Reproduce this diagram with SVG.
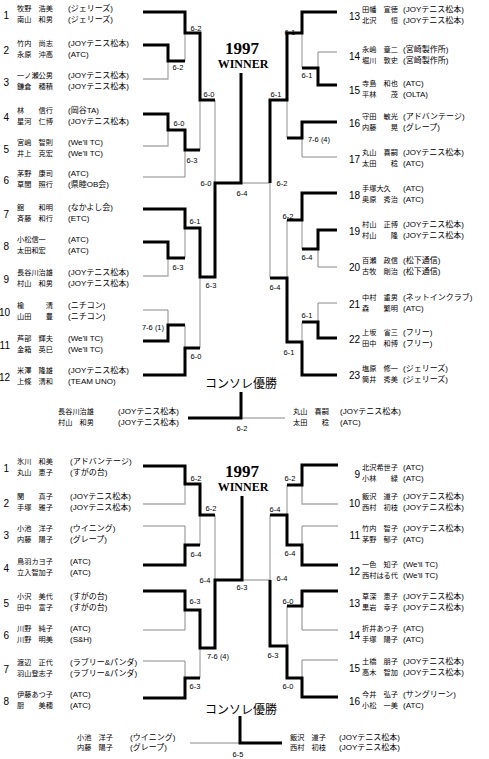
<svg xmlns="http://www.w3.org/2000/svg" width="489" height="759" viewBox="0 0 489 759">
<style>
.n{font-family:"Liberation Sans","Noto Sans CJK JP",sans-serif;font-size:8px;fill:#000}
.m{font-family:"Noto Sans CJK JP",sans-serif;font-size:7.2px;fill:#000}
.u{font-family:"Liberation Sans",sans-serif;font-size:10px;text-anchor:end;fill:#000}
.s{font-family:"Liberation Sans",sans-serif;font-size:7.5px;text-anchor:middle;fill:#000}
.w1{font-family:"Liberation Serif",serif;font-weight:bold;font-size:17px;text-anchor:middle}
.w2{font-family:"Liberation Serif",serif;font-weight:bold;font-size:12px;text-anchor:middle}
.c{font-family:"Noto Sans CJK JP",sans-serif;font-size:12px;text-anchor:middle}
.k{stroke:#000;stroke-width:3;fill:none}
.g{stroke:#aaa;stroke-width:1.3;fill:none}
.t{stroke:#888;stroke-width:1;fill:none}
</style>
<rect width="489" height="759" fill="#fff"/>

<g id="connectors">
<polyline class="g" points="143,79 168,79 168,61"/>
<polyline class="g" points="143,146 168,146 168,130"/>
<polyline class="t" points="143,177 185,177 185,150"/>
<polyline class="g" points="185,33 185,61"/>
<polyline class="g" points="200,100 200,150"/>
<polyline class="g" points="215,100 215,183"/>
<polyline class="g" points="185,228 185,258"/>
<polyline class="g" points="143,276 168,276 168,258"/>
<polyline class="t" points="143,310 168,310 168,325"/>
<polyline class="g" points="185,325 185,348"/>
<polyline class="g" points="200,277 200,348"/>
<polyline class="t" points="241,183 270,183"/>
<polyline class="k" points="143,12 185,12 185,33 200,33 200,100 215,100"/>
<polyline class="k" points="143,45 168,45 168,61 185,61"/>
<polyline class="k" points="143,114 168,114 168,130 185,130 185,150 200,150"/>
<polyline class="k" points="143,209 185,209 185,228 200,228 200,277 215,277 215,183 241,183 241,73"/>
<polyline class="k" points="143,242 168,242 168,258 185,258"/>
<polyline class="k" points="143,341 168,341 168,325 185,325"/>
<polyline class="k" points="143,375 185,375 185,348 200,348"/>
<polyline class="t" points="337,52 318,52 318,68"/>
<polyline class="g" points="302,33 302,68"/>
<polyline class="g" points="287,100 287,138"/>
<polyline class="t" points="337,157 302,157 302,138"/>
<polyline class="g" points="302,220 302,249"/>
<polyline class="t" points="337,267 318,267 318,249"/>
<polyline class="g" points="287,220 287,278"/>
<polyline class="t" points="337,303 318,303 318,322"/>
<polyline class="g" points="302,322 302,342"/>
<polyline class="g" points="270,183 270,278"/>
<polyline class="k" points="337,12 302,12 302,33 287,33 287,100 270,100 270,183"/>
<polyline class="k" points="337,85 318,85 318,68 302,68"/>
<polyline class="k" points="337,122 302,122 302,138 287,138"/>
<polyline class="k" points="337,193 302,193 302,220 287,220"/>
<polyline class="k" points="337,230 318,230 318,249 302,249"/>
<polyline class="k" points="337,338 318,338 318,322 302,322"/>
<polyline class="k" points="337,375 302,375 302,342 287,342 287,278 270,278"/>
<polyline class="t" points="241,418 285,418"/>
<polyline class="k" points="188,418 241,418 241,392"/>
<polyline class="g" points="143,504 185,504 185,484"/>
<polyline class="t" points="143,526 185,526 185,545"/>
<polyline class="g" points="200,515 200,545"/>
<polyline class="g" points="215,515 215,580"/>
<polyline class="t" points="143,630 185,630 185,610"/>
<polyline class="t" points="143,661 185,661 185,678"/>
<polyline class="g" points="200,648 200,678"/>
<polyline class="t" points="242,580 270,580"/>
<polyline class="k" points="143,466 185,466 185,484 200,484 200,515 215,515"/>
<polyline class="k" points="143,565 185,565 185,545 200,545"/>
<polyline class="k" points="143,591 185,591 185,610 200,610 200,648 215,648 215,580 242,580 242,496"/>
<polyline class="k" points="143,698 185,698 185,678 200,678"/>
<polyline class="g" points="338,504 302,504 302,485"/>
<polyline class="g" points="287,485 287,515"/>
<polyline class="t" points="338,526 302,526 302,545"/>
<polyline class="g" points="270,515 270,580"/>
<polyline class="t" points="338,630 302,630 302,606"/>
<polyline class="g" points="287,606 287,646"/>
<polyline class="t" points="338,660 302,660 302,678"/>
<polyline class="k" points="338,465 302,465 302,485 287,485"/>
<polyline class="k" points="338,565 302,565 302,545 287,545 287,515 270,515"/>
<polyline class="k" points="338,591 302,591 302,606 287,606"/>
<polyline class="k" points="338,697 302,697 302,678 287,678 287,646 270,646 270,580"/>
<polyline class="t" points="190,743 240,743"/>
<polyline class="k" points="240,716 240,743 282,743"/>
</g>

<g id="scores">
<text class="s" x="178" y="70">6-2</text>
<text class="s" x="196" y="31">6-2</text>
<text class="s" x="179" y="126">6-0</text>
<text class="s" x="192" y="163">6-3</text>
<text class="s" x="209" y="97">6-0</text>
<text class="s" x="206" y="186">6-0</text>
<text class="s" x="242" y="196">6-4</text>
<text class="s" x="195" y="224">6-1</text>
<text class="s" x="178" y="270">6-3</text>
<text class="s" x="211" y="288">6-3</text>
<text class="s" x="153" y="330">7-6 (1)</text>
<text class="s" x="196" y="359">6-0</text>
<text class="s" x="290" y="35">6-1</text>
<text class="s" x="307" y="78">6-1</text>
<text class="s" x="276" y="97">6-1</text>
<text class="s" x="319" y="142">7-6 (4)</text>
<text class="s" x="282" y="186">6-2</text>
<text class="s" x="288" y="219">6-2</text>
<text class="s" x="307" y="260">6-4</text>
<text class="s" x="275" y="290">6-4</text>
<text class="s" x="307" y="318">6-1</text>
<text class="s" x="289" y="355">6-1</text>
<text class="s" x="242" y="431">6-2</text>
<text class="s" x="196" y="481">6-2</text>
<text class="s" x="196" y="557">6-4</text>
<text class="s" x="211" y="511">6-2</text>
<text class="s" x="205" y="583">6-4</text>
<text class="s" x="195" y="604">6-3</text>
<text class="s" x="195" y="689">6-3</text>
<text class="s" x="218" y="659">7-6 (4)</text>
<text class="s" x="242" y="590">6-3</text>
<text class="s" x="290" y="481">6-2</text>
<text class="s" x="275" y="512">6-4</text>
<text class="s" x="290" y="556">6-4</text>
<text class="s" x="282" y="581">6-4</text>
<text class="s" x="288" y="604">6-0</text>
<text class="s" x="273" y="658">6-3</text>
<text class="s" x="288" y="689">6-0</text>
<text class="s" x="238" y="757">6-5</text>
</g>

<g id="title-top">
<text class="w1" x="242" y="54">1997</text>
<text class="w2" x="243" y="68">WINNER</text>
<text class="c" x="241" y="388">コンソレ優勝</text>
</g>
<g id="title-bottom">
<text class="w1" x="242" y="477">1997</text>
<text class="w2" x="243" y="491">WINNER</text>
<text class="c" x="241" y="714">コンソレ優勝</text>
</g>

<g id="t1"><text class="u" x="9" y="19">1</text><text class="m" x="17" y="11">牧野　浩美</text><text class="n" x="68" y="11">(ジェリーズ)</text><text class="m" x="17" y="22">南山　和男</text><text class="n" x="68" y="22">(ジェリーズ)</text></g>
<g id="t2"><text class="u" x="9" y="54">2</text><text class="m" x="17" y="46">竹内　尚志</text><text class="n" x="68" y="46">(JOYテニス松本)</text><text class="m" x="17" y="57">永原　沖高</text><text class="n" x="68" y="57">(ATC)</text></g>
<g id="t3"><text class="u" x="9" y="86">3</text><text class="m" x="17" y="78">一ノ瀬公男</text><text class="n" x="68" y="78">(JOYテニス松本)</text><text class="m" x="17" y="89">鎌倉　穂積</text><text class="n" x="68" y="89">(JOYテニス松本)</text></g>
<g id="t4"><text class="u" x="9" y="121">4</text><text class="m" x="17" y="113">林　　信行</text><text class="n" x="68" y="113">(岡谷TA)</text><text class="m" x="17" y="124">星河　仁博</text><text class="n" x="68" y="124">(JOYテニス松本)</text></g>
<g id="t5"><text class="u" x="9" y="153">5</text><text class="m" x="17" y="145">宮嶋　智則</text><text class="n" x="68" y="145">(We'll TC)</text><text class="m" x="17" y="156">井上　克宏</text><text class="n" x="68" y="156">(We'll TC)</text></g>
<g id="t6"><text class="u" x="9" y="184">6</text><text class="m" x="17" y="176">茅野　康司</text><text class="n" x="68" y="176">(ATC)</text><text class="m" x="17" y="187">草間　照行</text><text class="n" x="68" y="187">(県睦OB会)</text></g>
<g id="t7"><text class="u" x="9" y="218">7</text><text class="m" x="17" y="210">舘　　和明</text><text class="n" x="68" y="210">(なかよし会)</text><text class="m" x="17" y="221">斉藤　和行</text><text class="n" x="68" y="221">(ETC)</text></g>
<g id="t8"><text class="u" x="9" y="250">8</text><text class="m" x="17" y="242">小松信一</text><text class="n" x="68" y="242">(ATC)</text><text class="m" x="17" y="253">太田和宏</text><text class="n" x="68" y="253">(ATC)</text></g>
<g id="t9"><text class="u" x="9" y="283">9</text><text class="m" x="17" y="275">長谷川治雄</text><text class="n" x="68" y="275">(JOYテニス松本)</text><text class="m" x="17" y="286">村山　和男</text><text class="n" x="68" y="286">(JOYテニス松本)</text></g>
<g id="t10"><text class="u" x="10" y="316">10</text><text class="m" x="17" y="308">楡　　　清</text><text class="n" x="68" y="308">(ニチコン)</text><text class="m" x="17" y="319">山田　　豊</text><text class="n" x="68" y="319">(ニチコン)</text></g>
<g id="t11"><text class="u" x="10" y="349">11</text><text class="m" x="17" y="341">芦部　輝夫</text><text class="n" x="68" y="341">(We'll TC)</text><text class="m" x="17" y="352">金箱　英巳</text><text class="n" x="68" y="352">(We'll TC)</text></g>
<g id="t12"><text class="u" x="10" y="381">12</text><text class="m" x="17" y="373">米澤　隆雄</text><text class="n" x="68" y="373">(JOYテニス松本)</text><text class="m" x="17" y="384">上條　清和</text><text class="n" x="68" y="384">(TEAM UNO)</text></g>

<g id="t13"><text class="u" x="360" y="20">13</text><text class="m" x="362" y="12">田幡　宣徳</text><text class="n" x="403" y="12">(JOYテニス松本)</text><text class="m" x="362" y="23">北沢　　恒</text><text class="n" x="403" y="23">(JOYテニス松本)</text></g>
<g id="t14"><text class="u" x="360" y="60">14</text><text class="m" x="362" y="52">永嶋　章二</text><text class="n" x="403" y="52">(宮崎製作所)</text><text class="m" x="362" y="63">堀川　敦史</text><text class="n" x="403" y="63">(宮崎製作所)</text></g>
<g id="t15"><text class="u" x="360" y="94">15</text><text class="m" x="362" y="86">寺島　和也</text><text class="n" x="403" y="86">(ATC)</text><text class="m" x="362" y="97">平林　　茂</text><text class="n" x="403" y="97">(OLTA)</text></g>
<g id="t16"><text class="u" x="360" y="127">16</text><text class="m" x="362" y="119">守田　敏光</text><text class="n" x="403" y="119">(アドバンテージ)</text><text class="m" x="362" y="130">内藤　　晃</text><text class="n" x="403" y="130">(グレープ)</text></g>
<g id="t17"><text class="u" x="360" y="163">17</text><text class="m" x="362" y="155">丸山　喜嗣</text><text class="n" x="403" y="155">(JOYテニス松本)</text><text class="m" x="362" y="166">太田　　稔</text><text class="n" x="403" y="166">(ATC)</text></g>
<g id="t18"><text class="u" x="360" y="199">18</text><text class="m" x="362" y="191">手塚大久</text><text class="n" x="403" y="191">(ATC)</text><text class="m" x="362" y="202">奥原　秀治</text><text class="n" x="403" y="202">(ATC)</text></g>
<g id="t19"><text class="u" x="360" y="235">19</text><text class="m" x="362" y="227">村山　正博</text><text class="n" x="403" y="227">(JOYテニス松本)</text><text class="m" x="362" y="238">村山　　隆</text><text class="n" x="403" y="238">(JOYテニス松本)</text></g>
<g id="t20"><text class="u" x="360" y="271">20</text><text class="m" x="362" y="263">百瀬　政信</text><text class="n" x="403" y="263">(松下通信)</text><text class="m" x="362" y="274">古牧　剛治</text><text class="n" x="403" y="274">(松下通信)</text></g>
<g id="t21"><text class="u" x="360" y="308">21</text><text class="m" x="362" y="300">中村　重男</text><text class="n" x="403" y="300">(ネットインクラブ)</text><text class="m" x="362" y="311">森　　繁明</text><text class="n" x="403" y="311">(ATC)</text></g>
<g id="t22"><text class="u" x="360" y="343">22</text><text class="m" x="362" y="335">上坂　省三</text><text class="n" x="403" y="335">(フリー)</text><text class="m" x="362" y="346">田中　和博</text><text class="n" x="403" y="346">(フリー)</text></g>
<g id="t23"><text class="u" x="360" y="379">23</text><text class="m" x="362" y="371">塩原　修一</text><text class="n" x="403" y="371">(ジェリーズ)</text><text class="m" x="362" y="382">筒井　秀美</text><text class="n" x="403" y="382">(ジェリーズ)</text></g>

<g id="tc-left"><text class="m" x="58" y="414">長谷川治雄</text><text class="n" x="118" y="414">(JOYテニス松本)</text><text class="m" x="58" y="425">村山　和男</text><text class="n" x="118" y="425">(JOYテニス松本)</text></g>
<g id="tc-right"><text class="m" x="293" y="414">丸山　喜嗣</text><text class="n" x="340" y="414">(JOYテニス松本)</text><text class="m" x="293" y="425">太田　　稔</text><text class="n" x="340" y="425">(ATC)</text></g>

<g id="b1"><text class="u" x="9" y="472">1</text><text class="m" x="17" y="464">氷川　和美</text><text class="n" x="70" y="464">(アドバンテージ)</text><text class="m" x="17" y="475">丸山　恵子</text><text class="n" x="70" y="475">(すがの台)</text></g>
<g id="b2"><text class="u" x="9" y="507">2</text><text class="m" x="17" y="499">関　　真子</text><text class="n" x="70" y="499">(JOYテニス松本)</text><text class="m" x="17" y="510">手塚　雅子</text><text class="n" x="70" y="510">(JOYテニス松本)</text></g>
<g id="b3"><text class="u" x="9" y="539">3</text><text class="m" x="17" y="531">小池　洋子</text><text class="n" x="70" y="531">(ウイニング)</text><text class="m" x="17" y="542">内藤　陽子</text><text class="n" x="70" y="542">(グレープ)</text></g>
<g id="b4"><text class="u" x="9" y="572">4</text><text class="m" x="17" y="564">鳥羽カヨ子</text><text class="n" x="70" y="564">(ATC)</text><text class="m" x="17" y="575">立入智加子</text><text class="n" x="70" y="575">(ATC)</text></g>
<g id="b5"><text class="u" x="9" y="607">5</text><text class="m" x="17" y="599">小沢　美代</text><text class="n" x="70" y="599">(すがの台)</text><text class="m" x="17" y="610">田中　富子</text><text class="n" x="70" y="610">(すがの台)</text></g>
<g id="b6"><text class="u" x="9" y="639">6</text><text class="m" x="17" y="631">川野　純子</text><text class="n" x="70" y="631">(ATC)</text><text class="m" x="17" y="642">川野　明美</text><text class="n" x="70" y="642">(S&amp;H)</text></g>
<g id="b7"><text class="u" x="9" y="673">7</text><text class="m" x="17" y="665">渡辺　正代</text><text class="n" x="70" y="665">(ラブリー&amp;パンダ)</text><text class="m" x="17" y="676">羽山登志子</text><text class="n" x="70" y="676">(ラブリー&amp;パンダ)</text></g>
<g id="b8"><text class="u" x="9" y="705">8</text><text class="m" x="17" y="697">伊藤あつ子</text><text class="n" x="70" y="697">(ATC)</text><text class="m" x="17" y="708">厨　　美穂</text><text class="n" x="70" y="708">(ATC)</text></g>

<g id="b9"><text class="u" x="360" y="478">9</text><text class="m" x="362" y="470">北沢希世子</text><text class="n" x="403" y="470">(ATC)</text><text class="m" x="362" y="481">小林　　緑</text><text class="n" x="403" y="481">(ATC)</text></g>
<g id="b10"><text class="u" x="360" y="507">10</text><text class="m" x="362" y="499">飯沢　道子</text><text class="n" x="403" y="499">(JOYテニス松本)</text><text class="m" x="362" y="510">西村　初枝</text><text class="n" x="403" y="510">(JOYテニス松本)</text></g>
<g id="b11"><text class="u" x="360" y="539">11</text><text class="m" x="362" y="531">竹内　智子</text><text class="n" x="403" y="531">(JOYテニス松本)</text><text class="m" x="362" y="542">茅野　郁子</text><text class="n" x="403" y="542">(ATC)</text></g>
<g id="b12"><text class="u" x="360" y="575">12</text><text class="m" x="362" y="567">一色　知子</text><text class="n" x="403" y="567">(We'll TC)</text><text class="m" x="362" y="578">西村はる代</text><text class="n" x="403" y="578">(We'll TC)</text></g>
<g id="b13"><text class="u" x="360" y="607">13</text><text class="m" x="362" y="599">草深　恵子</text><text class="n" x="403" y="599">(JOYテニス松本)</text><text class="m" x="362" y="610">黒岩　幸子</text><text class="n" x="403" y="610">(JOYテニス松本)</text></g>
<g id="b14"><text class="u" x="360" y="639">14</text><text class="m" x="362" y="631">折井あつ子</text><text class="n" x="403" y="631">(ATC)</text><text class="m" x="362" y="642">手塚　陽子</text><text class="n" x="403" y="642">(ATC)</text></g>
<g id="b15"><text class="u" x="360" y="672">15</text><text class="m" x="362" y="664">土橋　朋子</text><text class="n" x="403" y="664">(JOYテニス松本)</text><text class="m" x="362" y="675">高木　智加</text><text class="n" x="403" y="675">(JOYテニス松本)</text></g>
<g id="b16"><text class="u" x="360" y="705">16</text><text class="m" x="362" y="697">今井　弘子</text><text class="n" x="403" y="697">(サングリーン)</text><text class="m" x="362" y="708">小松　一美</text><text class="n" x="403" y="708">(ATC)</text></g>

<g id="bc-left"><text class="m" x="77" y="740">小池　洋子</text><text class="n" x="130" y="740">(ウイニング)</text><text class="m" x="77" y="750">内藤　陽子</text><text class="n" x="130" y="750">(グレープ)</text></g>
<g id="bc-right"><text class="m" x="290" y="740">飯沢　道子</text><text class="n" x="339" y="740">(JOYテニス松本)</text><text class="m" x="290" y="750">西村　初枝</text><text class="n" x="339" y="750">(JOYテニス松本)</text></g>
</svg>
